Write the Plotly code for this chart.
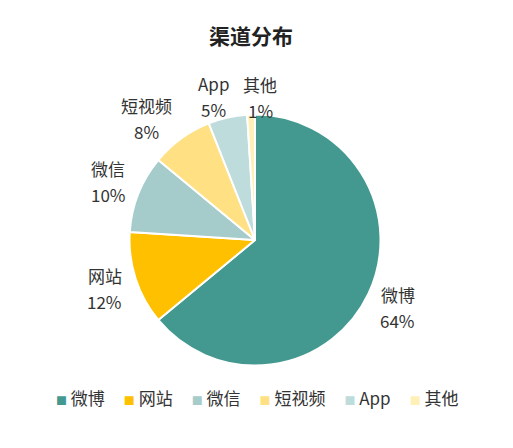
import math
import plotly.graph_objects as go

# channel share data (percent)
channels = ["微博", "网站", "微信", "短视频", "App", "其他"]
shares = [64, 12, 10, 8, 5, 1]
colors = ["#43998F", "#FFC000", "#A5CCCB", "#FFE082", "#BEDCDB", "#FFF0B8"]

font_family = "Noto Sans CJK SC, Noto Sans, sans-serif"
text_color = "#333333"

# page body has an 8px margin, so the figure is drawn 8px in from the corner
W, H = 505, 440
OFF = 8
cx, cy, r = 255 - OFF, 240 - OFF, 125.5   # pie centre / radius in figure px
label_r = 158
# small nudges (px) where the reference spreads crowded labels
nudge = {"短视频": (-16, 6), "App": (-7, 11), "其他": (10, 15)}

fig = go.Figure()
fig.add_trace(go.Pie(
    labels=channels,
    values=shares,
    sort=False,
    direction="clockwise",
    rotation=0,
    marker=dict(colors=colors, line=dict(color="white", width=2)),
    textinfo="none",
    domain=dict(x=[(cx - r) / W, (cx + r) / W],
                y=[1 - (cy + r) / H, 1 - (cy - r) / H]),
    hoverinfo="label+percent",
    showlegend=False,
))

# outside labels: name and percent, placed at each slice's mid angle
total = sum(shares)
acc = 0
for name, v in zip(channels, shares):
    mid = (acc + v / 2) / total * 2 * math.pi
    acc += v
    dx = math.sin(mid) * label_r
    dy = -math.cos(mid) * label_r
    nx, ny = nudge.get(name, (0, 0))
    dx += nx
    dy += ny
    pct = f"{round(v / total * 100)}%"
    for txt, sh in ((name, 13), (pct, -13)):
        fig.add_annotation(
            x=cx / W, y=1 - cy / H, xref="paper", yref="paper",
            xshift=dx, yshift=-dy + sh,
            text=txt, showarrow=False,
            xanchor="center", yanchor="middle",
            font=dict(size=17, color=text_color, family=font_family),
        )

# compact legend row (square marker + name), built from the same lists
nb = "\u00a0"
items = [f'<span style="color:{c};font-size:11px">■</span>{nb}{n}'
         for n, c in zip(channels, colors)]
fig.add_annotation(
    x=(257 - OFF) / W, y=1 - (397 - OFF) / H, xref="paper", yref="paper",
    text=(nb * 5).join(items), showarrow=False,
    xanchor="center", yanchor="middle",
    font=dict(size=17, color=text_color, family=font_family),
)

fig.update_layout(
    width=W, height=H,
    margin=dict(l=0, r=0, t=0, b=0),
    paper_bgcolor="white",
    font=dict(family=font_family, color=text_color),
    title=dict(text="<b>渠道分布</b>", x=(251 - OFF) / W, xanchor="center",
               y=1 - (37 - OFF) / H, yanchor="middle",
               font=dict(size=21, color="#222222", family=font_family)),
    showlegend=False,
)

fig.write_html("out.html")
